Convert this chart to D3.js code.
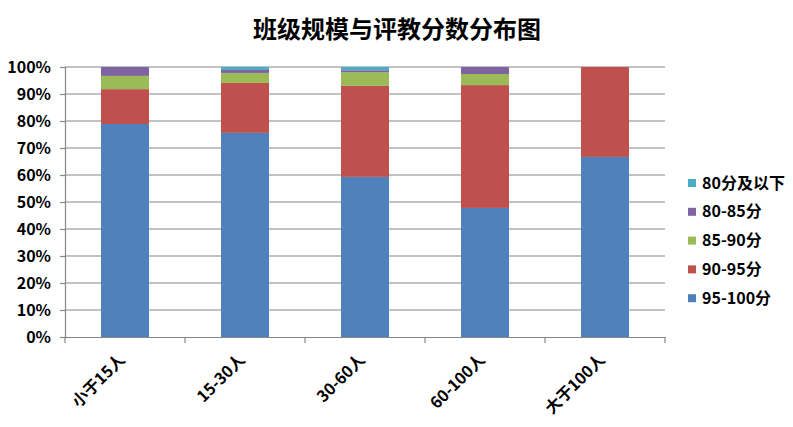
<!DOCTYPE html>
<html><head><meta charset="utf-8">
<script src="https://cdn.jsdelivr.net/npm/d3@7"></script>
<style>
body{margin:0;background:#fff;}
text{font-family:"Noto Sans CJK SC","DejaVu Sans",sans-serif;font-weight:bold;}
</style></head>
<body>
<svg id="c" width="793" height="427"></svg>
<script>
const categories = ["小于15人","15-30人","30-60人","60-100人","大于100人"];
const seriesNames = ["95-100分","90-95分","85-90分","80-85分","80分及以下"];
const s95_100 = [0.789,0.756,0.593,0.478,0.667];
const s90_95  = [0.129,0.185,0.337,0.455,0.333];
const s85_90  = [0.049,0.037,0.051,0.041,0];
const s80_85  = [0.033,0.011,0.007,0.026,0];
const sBelow80= [0,0.011,0.012,0,0];
const colors = ["#4F81BD","#C0504D","#9BBB59","#8064A2","#4BACC6"];
const yTicks = [0,0.1,0.2,0.3,0.4,0.5,0.6,0.7,0.8,0.9,1];

const series = [s95_100,s90_95,s85_90,s80_85,sBelow80];
const rows = categories.map((c,i)=>{const o={cat:c}; seriesNames.forEach((n,k)=>o[n]=series[k][i]); return o;});
const stacked = d3.stack().keys(seriesNames)(rows);

const svg = d3.select("#c");
const m = {l:65, r:665, t:67, b:337};
const x = d3.scaleBand().domain(categories).range([m.l,m.r]).paddingInner(0.6).paddingOuter(0.3);
const xb = d3.scaleBand().domain(categories).range([m.l,m.r]);
const y = d3.scaleLinear().domain([0,1]).range([m.b,m.t]);

svg.append("text").attr("x",397).attr("y",38).attr("text-anchor","middle")
  .style("font-size","24px").text("班级规模与评教分数分布图");

// grid
svg.append("g").selectAll("line").data(yTicks.slice(1)).join("line")
  .attr("x1",m.l).attr("x2",m.r).attr("y1",d=>y(d)).attr("y2",d=>y(d))
  .attr("stroke","#868686").attr("stroke-width",1.2);

// bars
svg.append("g").selectAll("g").data(stacked).join("g").attr("fill",(d,i)=>colors[i])
  .selectAll("rect").data(d=>d).join("rect")
  .attr("x",d=>x(d.data.cat)).attr("width",x.bandwidth())
  .attr("y",d=>y(d[1])).attr("height",d=>y(d[0])-y(d[1]));

// y axis
const ya = svg.append("g").attr("transform",`translate(${m.l},0)`)
  .call(d3.axisLeft(y).tickValues(yTicks).tickFormat(d3.format(".0%")).tickSize(5).tickPadding(9));
ya.select(".domain").attr("stroke","#868686").attr("stroke-width",1.2);
ya.selectAll(".tick line").attr("stroke","#868686").attr("stroke-width",1.2);
ya.selectAll(".tick text").style("font-size","16px").attr("fill","#000");

// x axis
const xa = svg.append("g").attr("transform",`translate(0,${m.b})`)
  .call(d3.axisBottom(xb).tickSize(0).tickFormat(""));
xa.select(".domain").attr("stroke","#868686").attr("stroke-width",1.2);
svg.append("g").selectAll("line").data([...categories.map(c=>xb(c)), m.r]).join("line")
  .attr("x1",d=>d).attr("x2",d=>d).attr("y1",m.b).attr("y2",m.b+6)
  .attr("stroke","#868686").attr("stroke-width",1.2);
svg.append("g").selectAll("text").data(categories).join("text")
  .attr("transform",d=>`translate(${xb(d)+xb.bandwidth()/2-3},${m.b+20}) rotate(-45)`)
  .attr("text-anchor","end").attr("dy","0.35em").style("font-size","16px").text(d=>d);

// legend
const legOrder = seriesNames.map((n,i)=>({n,c:colors[i]})).reverse();
const lg = svg.append("g").selectAll("g").data(legOrder).join("g")
  .attr("transform",(d,i)=>`translate(688,${183+i*28.8})`);
lg.append("rect").attr("x",0).attr("y",-4).attr("width",8).attr("height",8).attr("fill",d=>d.c);
lg.append("text").attr("x",14).attr("dy","0.35em").style("font-size","16px").text(d=>d.n);
</script>
</body></html>
